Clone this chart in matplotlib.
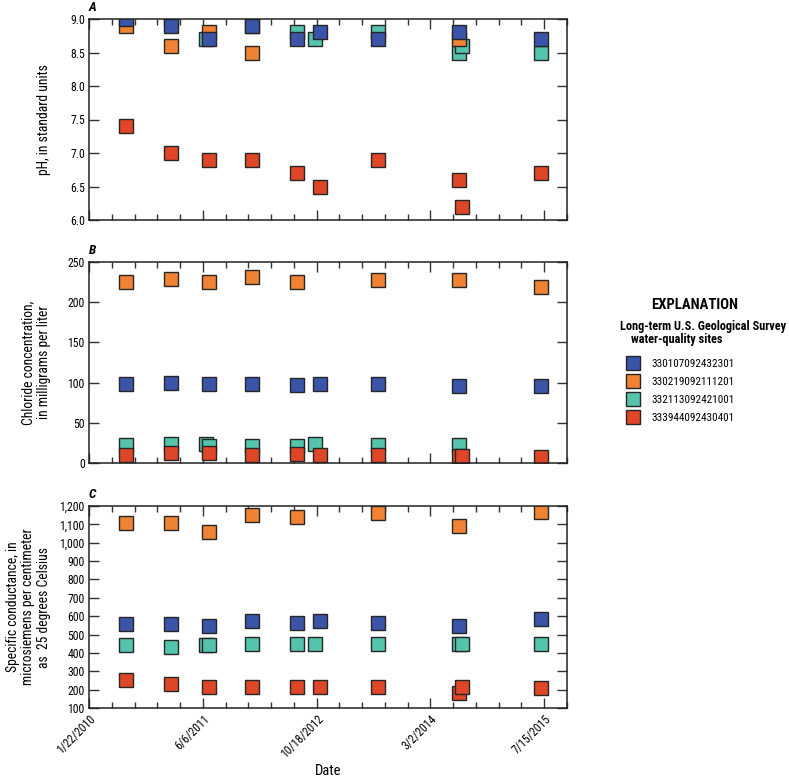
import numpy as np
import pandas as pd
import matplotlib
matplotlib.use("Agg")
import matplotlib.pyplot as plt
import matplotlib.dates as mdates
from matplotlib.ticker import FixedLocator, MultipleLocator, FuncFormatter

plt.rcParams['font.family'] = ['Roboto Condensed', 'DejaVu Sans']

# ---------------- data ----------------
sample_dates = ["2010-07-04", "2011-01-17", "2011-06-19", "2011-07-03", "2012-01-08",
                "2012-07-24", "2012-10-13", "2012-10-31", "2013-07-13", "2014-07-04",
                "2014-07-19", "2015-07-02"]

site_ids = ["330107092432301", "330219092111201", "332113092421001", "333944092430401"]
site_colors = ["#3a55a8", "#f08233", "#55c4ad", "#df4628"]

nan = np.nan
# pH, in standard units
ph_330107092432301 = [9.0, 8.9, nan, 8.7, 8.9, 8.7, nan, 8.8, 8.7, 8.8, nan, 8.7]
ph_330219092111201 = [8.9, 8.6, nan, 8.8, 8.5, nan, nan, nan, nan, 8.7, nan, nan]
ph_332113092421001 = [nan, 9.0, 8.7, nan, 8.9, 8.8, 8.7, nan, 8.8, 8.5, 8.6, 8.5]
ph_333944092430401 = [7.4, 7.0, nan, 6.9, 6.9, 6.7, nan, 6.5, 6.9, 6.6, 6.2, 6.7]

# Chloride, mg/L
cl_330107092432301 = [98, 99, nan, 98, 98, 97, nan, 98, 98, 96, nan, 96]
cl_330219092111201 = [225, 229, nan, 225, 231, 225, nan, nan, 228, 228, nan, 219]
cl_332113092421001 = [22, 24, 24, 21, 21, 21, 24, nan, 22, 22, nan, nan]
cl_333944092430401 = [10, 12, nan, 12, 10, 11, nan, 10, 10, 9, 9, 8]

# Specific conductance, uS/cm at 25 C
sc_330107092432301 = [555, 555, nan, 545, 575, 565, nan, 575, 565, 545, nan, 585]
sc_330219092111201 = [1110, 1110, nan, 1060, 1150, 1140, nan, nan, 1160, 1090, nan, 1170]
sc_332113092421001 = [445, 430, 445, 445, 450, 450, 450, nan, 450, 450, 450, 450]
sc_333944092430401 = [250, 230, nan, 215, 215, 215, nan, 215, 215, 180, 215, 210]

x_tick_labels = ["1/22/2010", "6/6/2011", "10/18/2012", "3/2/2014", "7/15/2015"]

panel_letters = ["A", "B", "C"]
y_labels = ["pH, in standard units",
            "Chloride concentration,\nin milligrams per liter",
            "Specific conductance, in\nmicrosiemens per centimeter\nas  25 degrees Celsius"]

panels = [
    [ph_330107092432301, ph_330219092111201, ph_332113092421001, ph_333944092430401],
    [cl_330107092432301, cl_330219092111201, cl_332113092421001, cl_333944092430401],
    [sc_330107092432301, sc_330219092111201, sc_332113092421001, sc_333944092430401],
]

# ---------------- figure ----------------
W, H = 789, 779
fig = plt.figure(figsize=(W / 100, H / 100), dpi=100)

def px_axes(l, t, r, b):
    return fig.add_axes([l / W, 1 - b / H, (r - l) / W, (b - t) / H])

ax_rects = [(89, 19, 567, 220), (89, 262, 567, 463), (89, 506, 567, 708)]
ylims = [(6.0, 9.0), (0, 250), (100, 1200)]
ysteps = [0.5, 50, 100]
yfmts = [lambda v, p: f"{v:.1f}", lambda v, p: f"{v:.0f}", lambda v, p: f"{v:,.0f}"]

dates = pd.to_datetime(sample_dates)
tick_dates = pd.to_datetime(x_tick_labels, format="%m/%d/%Y")
x0 = mdates.date2num(tick_dates[0])
x1 = x0 + 2100
major = mdates.date2num(tick_dates)
minor = np.arange(x0, x1 + 1, 100)

draw_order = [2, 1, 0, 3]  # teal, orange, blue, red
edge = "#262626"
handles = {}
for i, ax_r in enumerate(ax_rects):
    ax = px_axes(*ax_r)
    for k in draw_order:
        vals = np.array(panels[i][k], dtype=float)
        h, = ax.plot(dates, vals, linestyle="none", marker="s", markersize=10.2,
                     markerfacecolor=site_colors[k], markeredgecolor=edge,
                     markeredgewidth=1.0, clip_on=True, label=site_ids[k])
        handles[k] = h
    ax.set_xlim(x0, x1)
    ax.set_ylim(*ylims[i])
    ax.xaxis.set_major_locator(FixedLocator(major))
    ax.xaxis.set_minor_locator(FixedLocator(minor))
    ax.yaxis.set_major_locator(MultipleLocator(ysteps[i]))
    ax.yaxis.set_major_formatter(FuncFormatter(yfmts[i]))
    ax.tick_params(axis="both", which="both", direction="in", top=True, right=True,
                   color="#333333", width=1.0, labelsize=8.5, pad=3)
    ax.tick_params(axis="both", which="major", length=7.5)
    ax.tick_params(axis="x", which="minor", length=4.5)
    for s in ax.spines.values():
        s.set_color("#222222")
        s.set_linewidth(1.1)
    if i < 2:
        ax.set_xticklabels([])
    else:
        ax.set_xticklabels(x_tick_labels, rotation=45, ha="right", va="top",
                           rotation_mode="anchor")
        ax.set_xlabel("Date", fontsize=10.5)
        ax.xaxis.set_label_coords(0.5, -0.275)
    ax.set_ylabel(y_labels[i], fontsize=9.8, linespacing=1.12)
    ax.yaxis.set_label_coords(-0.08, 0.5)
    ax.text(0.0, 1.025, panel_letters[i], transform=ax.transAxes, fontsize=9.5,
            fontweight="bold", style="italic", ha="left", va="bottom")

# ---------------- legend ----------------
fig.text(695 / W, 1 - 305 / H, "EXPLANATION", fontsize=10.5, fontweight="bold",
         ha="center", va="center")
fig.text(620 / W, 1 - 326 / H, "Long-term U.S. Geological Survey", fontsize=8.8,
         fontweight="bold", ha="left", va="center")
fig.text(631 / W, 1 - 340 / H, "water-quality sites", fontsize=8.8,
         fontweight="bold", ha="left", va="center")
fig.legend([handles[k] for k in range(4)], site_ids, loc="upper left",
           bbox_to_anchor=(627.5 / W, 1 - 359 / H), frameon=False, fontsize=8,
           handlelength=1.0, handletextpad=1.12, labelspacing=0.72, borderpad=0,
           borderaxespad=0)

fig.savefig("out.png", dpi=100)
